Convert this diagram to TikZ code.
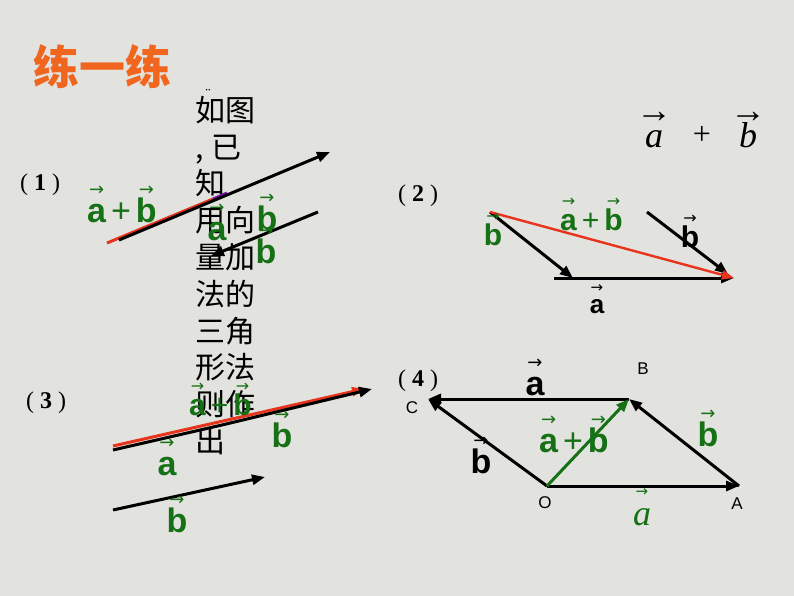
\documentclass[tikz,border=0pt]{standalone}
\usepackage{fontspec}
\usetikzlibrary{arrows.meta,positioning}
\setmainfont{Liberation Serif}
\setsansfont{Liberation Sans}
\newfontfamily\cjk{Noto Sans CJK SC}
\newfontfamily\sym{DejaVu Sans}

\definecolor{bgc}{RGB}{226,226,222}
\definecolor{grn}{RGB}{22,112,22}
\definecolor{org}{RGB}{240,102,30}
\definecolor{rdc}{RGB}{232,52,28}
\definecolor{prp}{RGB}{120,20,170}

% letter with a small arrow above it
\newcommand{\ov}[2][18]{\setbox0=\hbox{#2}\rlap{\raisebox{0.78em}{\hbox to \wd0{\hss\sym\mdseries\upshape\fontsize{#1}{#1}\selectfont →\hss}}}\box0}
\newcommand{\ovs}[1]{\setbox0=\hbox{#1}\rlap{\raisebox{0.72em}{\hbox to \wd0{\hss\rmfamily\upshape\fontsize{36}{36}\selectfont →\hss}}}\box0}
\newcommand{\pl}{\hspace{5pt}{\mdseries+}\hspace{5pt}}

\tikzset{
	vec/.style={line width=3pt,-{Triangle[length=13pt,width=10pt]}},
	lbl/.style={inner sep=0pt,anchor=base,font=\sffamily\bfseries\fontsize{34}{34}\selectfont},
	glbl/.style={lbl,text=grn},
	slbl/.style={lbl,font=\sffamily\bfseries\fontsize{30}{30}\selectfont},
	pt/.style={inner sep=0pt,anchor=base,font=\sffamily\fontsize{17}{17}\selectfont},
	num/.style={inner sep=0pt,anchor=base west,font=\fontsize{24}{24}\selectfont},
}

\begin{document}
\begin{tikzpicture}[x=1pt,y=-1pt]
	\useasboundingbox (0,0) rectangle (794,596);
	\fill[bgc] (0,0) rectangle (794,596);

	\node[inner sep=0pt,anchor=base west,text=org,font=\cjk\bfseries\fontsize{46}{46}\selectfont] (title) at (33,85) {练一练};
	\node[inner sep=0pt,anchor=north west,align=left,font=\cjk\fontsize{30}{36.8}\selectfont] (txt) at (195,96)
		{如图\\,\hspace{8pt}已\\知\\用向\\量加\\法的\\三角\\形法\\则作\\出};
	\node[inner sep=0pt,font=\fontsize{16}{16}\selectfont] (dots) at (208,94) {¨};

	\node[inner sep=0pt,anchor=base,font=\itshape\fontsize{36}{36}\selectfont] (sa) at (654,148) {\ovs{a}};
	\node[inner sep=0pt,anchor=base,font=\fontsize{32}{32}\selectfont] (sp) at (702,145) {+};
	\node[inner sep=0pt,anchor=base,font=\itshape\fontsize{36}{36}\selectfont] (sb) at (748,148) {\ovs{b}};

	% (1)
	\node[num] (n1) at (20,190) {(\hspace{6pt}\textbf{1}\hspace{6pt})};
	\coordinate (r1s) at (107,243);
	\coordinate (r1e) at (213,199);
	\coordinate (r1m) at (227,193);
	\coordinate (k1s) at (119,240);
	\coordinate (k1e) at (330,152);
	\coordinate (b1s) at (318,212);
	\coordinate (b1e) at (211,256);
	\draw[rdc,line width=3pt] (r1s) -- (r1e);
	\draw[prp,line width=3pt] (r1e) -- (r1m);
	\draw[vec] (k1s) -- (k1e);
	\draw[vec] (b1s) -- (b1e);
	\node[glbl,anchor=base west] (s1) at (87,222) {\ov{a}\pl\ov{b}};
	\node[glbl] (a1) at (217,240) {\ov{a}};
	\node[glbl] (b1) at (267,230) {\ov{b}};
	\node[glbl] (b1l) at (266,263) {\ov{b}};

	% (2)
	\node[num] (n2) at (398,201) {(\hspace{6pt}\textbf{2}\hspace{6pt})};
	\coordinate (p2) at (490,212);
	\coordinate (q2) at (734,278);
	\coordinate (m2) at (573,278);
	\coordinate (o2) at (554,278);
	\coordinate (c2) at (647,212);
	\coordinate (d2) at (728,274);
	\draw[vec] (p2) -- (m2);
	\draw[vec] (o2) -- (q2);
	\draw[vec] (c2) -- (d2);
	\draw[rdc,line width=2.4pt,-{Triangle[length=12pt,width=9pt]}] (p2) -- (q2);
	\node[slbl,text=grn] (b2) at (493,245) {\ov[16]{b}};
	\node[slbl,text=grn,anchor=base west] (s2) at (560,230) {\ov[16]{a}\pl\ov[16]{b}};
	\node[slbl] (b2r) at (690,247) {\ov[16]{b}};
	\node[slbl,font=\sffamily\bfseries\fontsize{26}{26}\selectfont] (a2) at (597,313) {\ov[15]{a}};

	% (3)
	\node[num] (n3) at (26,408) {(\hspace{6pt}\textbf{3}\hspace{6pt})};
	\coordinate (r3s) at (113,446);
	\coordinate (r3e) at (364,389);
	\coordinate (k3s) at (113,450);
	\coordinate (k3m) at (222,425);
	\coordinate (k3e) at (372,389);
	\coordinate (l3s) at (113,510);
	\coordinate (l3e) at (265,477);
	\draw[rdc,line width=3pt,-{Triangle[length=12pt,width=9pt]}] (r3s) -- (r3e);
	\draw[line width=3pt] (k3s) -- (k3m);
	\draw[vec] (k3m) -- (k3e);
	\draw[vec] (l3s) -- (l3e);
	\node[slbl,text=grn,anchor=base west] (s3) at (189,415) {\ov[16]{a}\pl\ov[16]{b}};
	\node[glbl] (b3) at (282,447) {\ov{b}};
	\node[glbl] (a3) at (167,475) {\ov{a}};
	\node[glbl] (b3l) at (177,532) {\ov{b}};

	% (4)
	\node[num] (n4) at (398,386) {(\hspace{6pt}\textbf{4}\hspace{6pt})};
	\coordinate (O) at (547,486);
	\coordinate (A) at (739,486);
	\coordinate (B) at (629,399);
	\coordinate (C) at (428,399);
	\draw[vec] (O) -- (A);
	\draw[vec] (A) -- (B);
	\draw[vec] (B) -- (C);
	\draw[vec] (O) -- (C);
	\draw[grn,line width=3pt,-{Triangle[length=13pt,width=10pt]}] (O) -- (B);
	\node[pt] (lc) at (412,413) {C};
	\node[pt] (lb) at (643,374) {B};
	\node[pt] (lo) at (545,508) {O};
	\node[pt] (la) at (737,509) {A};
	\node[lbl] (a4) at (535,395) {\ov{a}};
	\node[glbl] (b4) at (708,446) {\ov{b}};
	\node[lbl] (b4l) at (481,473) {\ov{b}};
	\node[glbl,anchor=base west] (s4) at (539,452) {\ov{a}\pl\ov{b}};
	\node[inner sep=0pt,anchor=base,text=grn,font=\itshape\fontsize{36}{36}\selectfont] (a4i) at (642,525) {\ov[15]{a}};
\end{tikzpicture}
\end{document}
